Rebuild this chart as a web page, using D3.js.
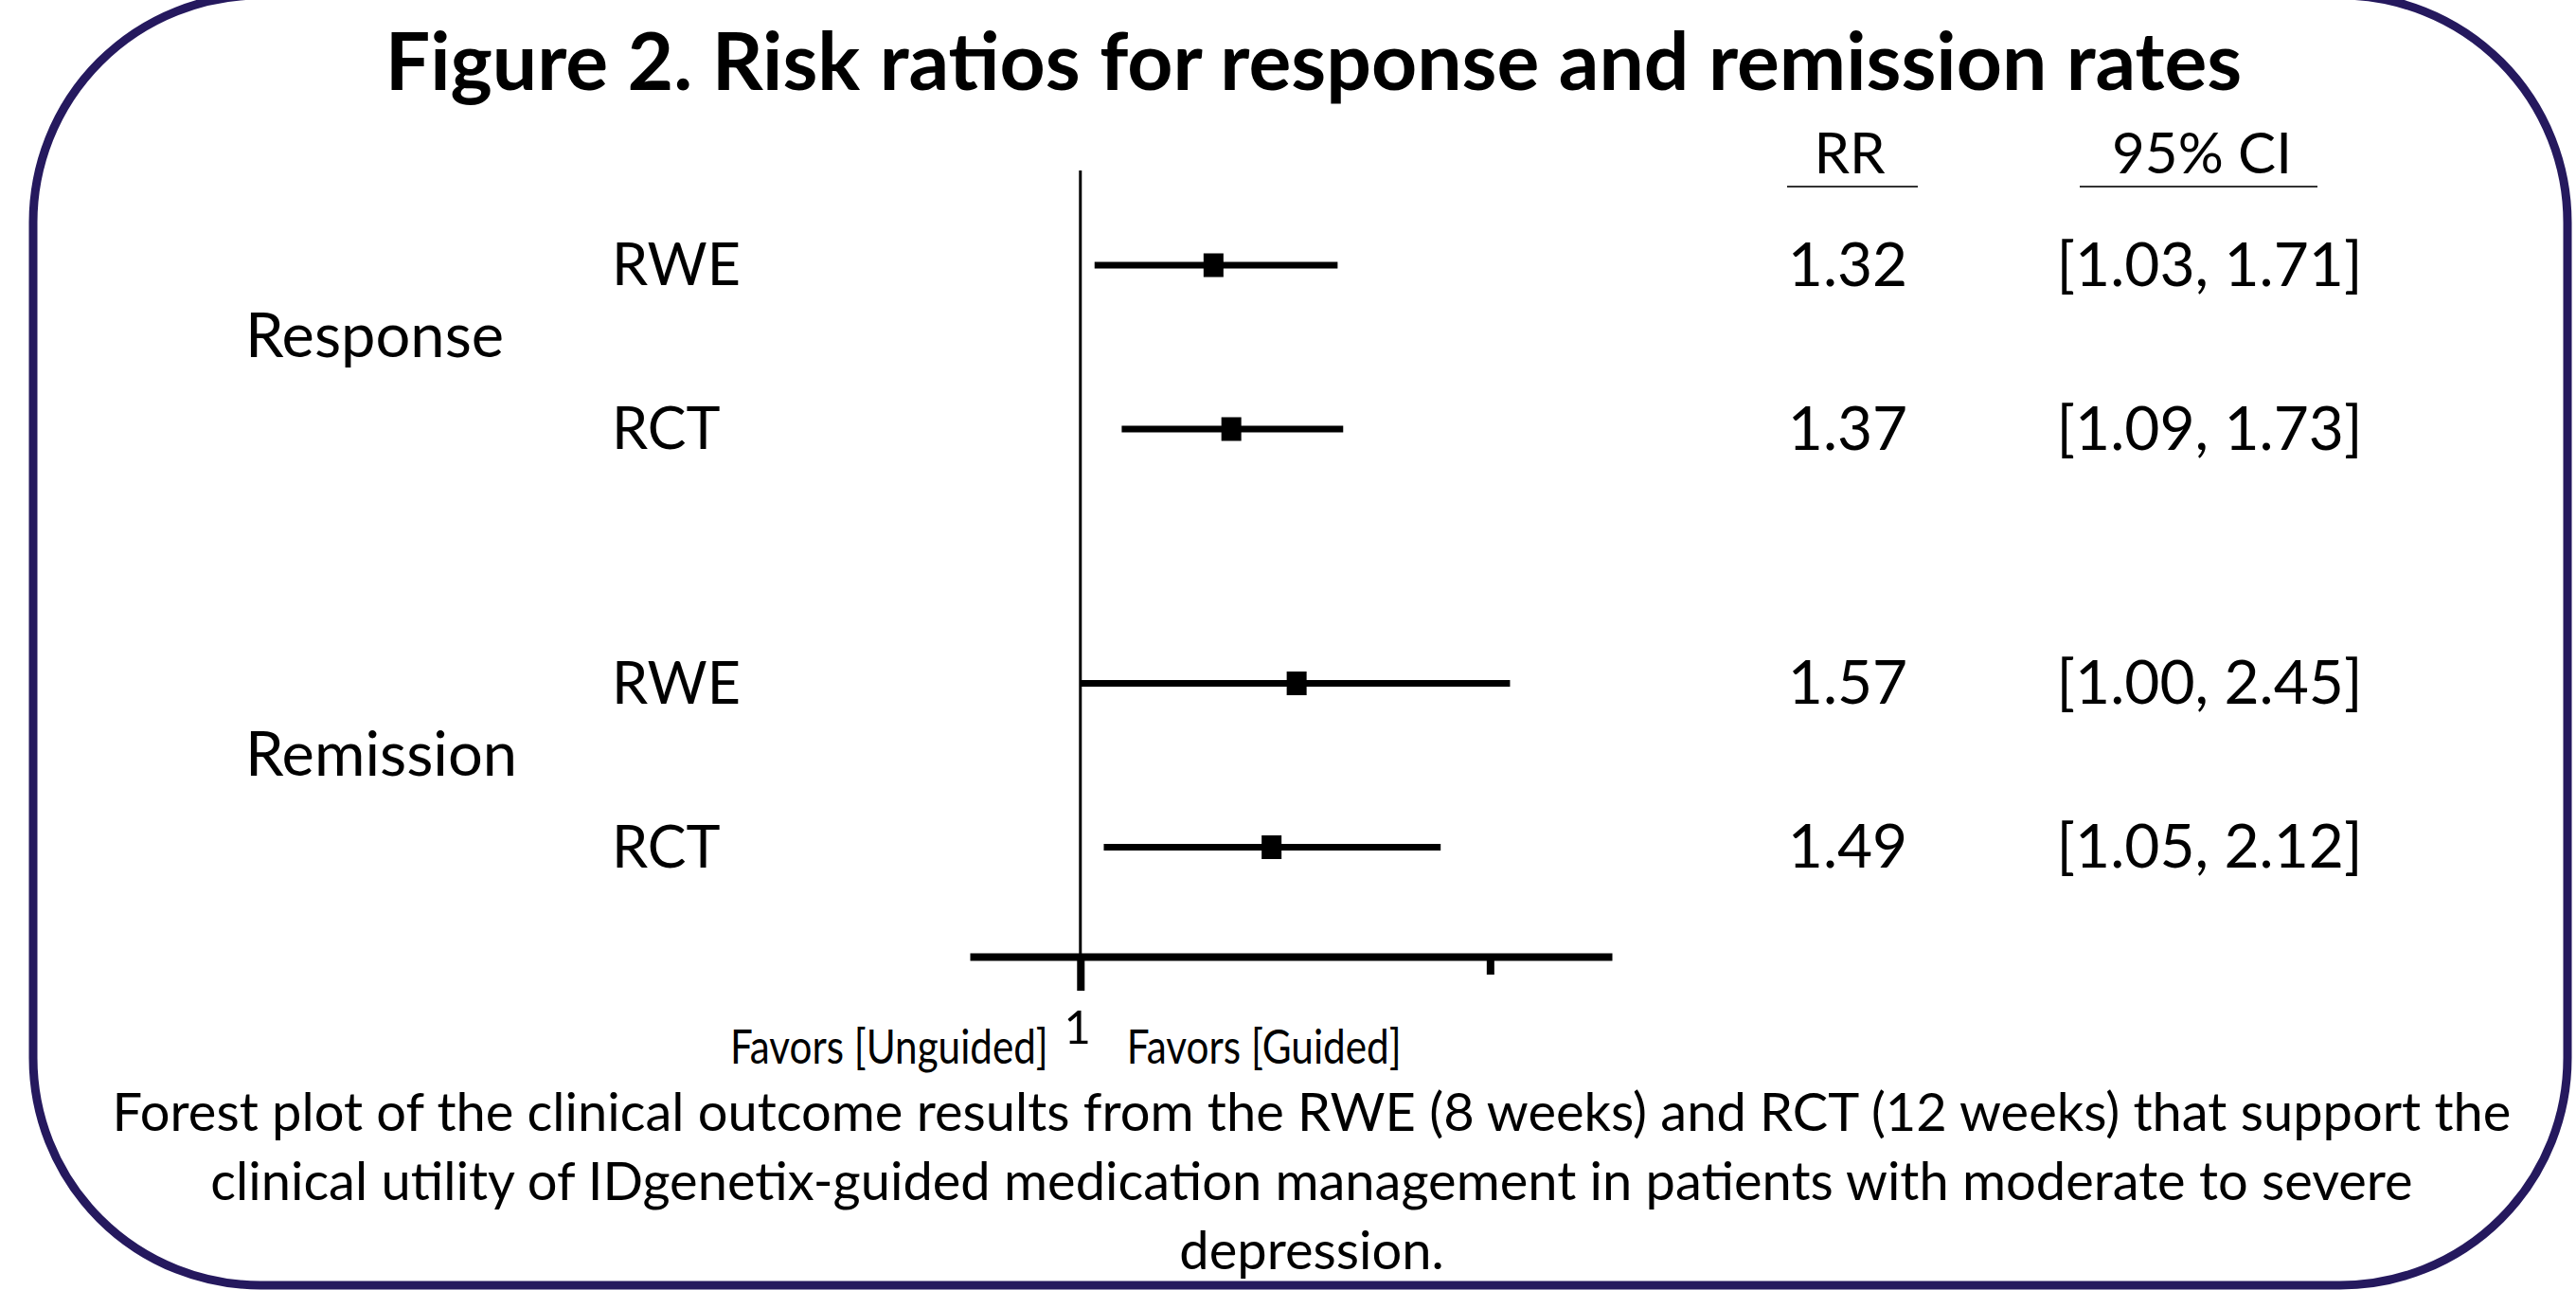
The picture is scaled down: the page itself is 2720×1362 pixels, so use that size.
<!DOCTYPE html>
<html>
<head>
<meta charset="utf-8">
<script src="https://cdn.jsdelivr.net/npm/d3@7"></script>
<style>
  body { margin: 0; background: #fff; }
  svg { display: block; }
  text { font-family: Lato, "Open Sans", sans-serif; fill: #000; }
</style>
</head>
<body>
<svg id="chart"></svg>
<script>
const w = 2720;
const h = 1362;

// data
const groups = ["Response", "Remission"];
const studies = ["RWE", "RCT"];
const rowGroup = ["Response", "Response", "Remission", "Remission"];
const rowStudy = ["RWE", "RCT", "RWE", "RCT"];
const rr = [1.32, 1.37, 1.57, 1.49];
const ciLow = [1.03, 1.09, 1.00, 1.05];
const ciHigh = [1.71, 1.73, 2.45, 2.12];
const axisTicks = [1, 2.35];
const tickLabels = ["1", ""];
const headers = ["RR", "95% CI"];
const favorLabels = ["Favors [Unguided]", "Favors [Guided]"];
const title = "Figure 2. Risk ratios for response and remission rates";
const caption = [
  "Forest plot of the clinical outcome results from the RWE (8 weeks) and RCT (12 weeks) that support the",
  "clinical utility of IDgenetix-guided medication management in patients with moderate to severe",
  "depression."
];

const rows = rr.map((v, i) => ({group: rowGroup[i], study: rowStudy[i], rr: v, lo: ciLow[i], hi: ciHigh[i]}));

const axisY = 1010;
const rrX = 1953;
const ciX = 2325;

var chart = d3.select("#chart")
  .attr("width", w)
  .attr("height", h);

// narrow text: squeeze horizontally to a given width
function squeezeText(parent, str, x, y, anchor, size, width) {
  var t = parent.append("text")
                .attr("text-anchor", anchor)
                .attr("font-size", size)
                .text(str);
  var k = width / t.node().getComputedTextLength();
  t.attr("transform", `translate(${x}, ${y}) scale(${k}, 1)`);
  return t;
}

// rounded frame
chart.append("rect")
     .attr("x", 35)
     .attr("y", -5)
     .attr("width", 2676)
     .attr("height", 1362)
     .attr("rx", 240)
     .attr("fill", "none")
     .attr("stroke", "#25195e")
     .attr("stroke-width", 9);

chart.append("text")
     .attr("x", 1387)
     .attr("y", 95)
     .attr("text-anchor", "middle")
     .attr("font-size", 84)
     .attr("font-weight", "bold")
     .text(title);

const xScale = d3.scaleLog()
                 .domain([0.794, 3.03])
                 .range([1024, 1702]);

const yGroup = d3.scalePoint()
                 .domain(groups)
                 .range([366.5, 808]);

const yStudy = d3.scalePoint()
                 .domain(studies)
                 .range([-86.5, 86.5]);

const rowY = d => yGroup(d.group) + yStudy(d.study);

// line of no effect
chart.append("line")
     .attr("x1", xScale(1))
     .attr("x2", xScale(1))
     .attr("y1", 180)
     .attr("y2", axisY)
     .attr("stroke", "#000")
     .attr("stroke-width", 3);

// x axis: long tick at 1, short one further right
var axis1 = chart.append("g")
     .attr("transform", `translate(0, ${axisY})`)
     .call(d3.axisBottom(xScale).tickValues([axisTicks[0]]).tickSize(36).tickSizeOuter(0).tickFormat(""));
axis1.select(".domain").attr("stroke-width", 8);
axis1.selectAll(".tick line").attr("stroke-width", 8);

var axis2 = chart.append("g")
     .attr("transform", `translate(0, ${axisY})`)
     .call(d3.axisBottom(xScale).tickValues(axisTicks.slice(1)).tickSize(19).tickSizeOuter(0).tickFormat(""));
axis2.select(".domain").remove();
axis2.selectAll(".tick line").attr("stroke-width", 8);

chart.selectAll(".tick-label")
     .data(axisTicks.filter((d, i) => tickLabels[i] !== ""))
     .join("text")
     .attr("class", "tick-label")
     .attr("x", d => xScale(d) - 3)
     .attr("y", 1102)
     .attr("text-anchor", "middle")
     .attr("font-size", 49)
     .text((d, i) => tickLabels[i]);

squeezeText(chart, favorLabels[0], xScale(1) - 34, 1123, "end", 50, 336);
squeezeText(chart, favorLabels[1], xScale(1) + 49, 1123, "start", 50, 290);

// confidence intervals and point estimates
chart.selectAll(".ci")
     .data(rows)
     .join("line")
     .attr("class", "ci")
     .attr("x1", d => xScale(d.lo))
     .attr("x2", d => xScale(d.hi))
     .attr("y1", rowY)
     .attr("y2", rowY)
     .attr("stroke", "#000")
     .attr("stroke-width", 7);

chart.selectAll(".est")
     .data(rows)
     .join("rect")
     .attr("class", "est")
     .attr("x", d => xScale(d.rr) - 10.5)
     .attr("y", d => rowY(d) - 12.5)
     .attr("width", 21)
     .attr("height", 25)
     .attr("fill", "#000");

// row labels
chart.selectAll(".group-label")
     .data(groups)
     .join("text")
     .attr("class", "group-label")
     .attr("x", 259)
     .attr("y", d => yGroup(d) - 12)
     .attr("dy", "0.35em")
     .attr("font-size", 65)
     .text(d => d);

chart.selectAll(".study-label")
     .data(rows)
     .join("text")
     .attr("class", "study-label")
     .attr("x", 646)
     .attr("y", rowY)
     .attr("dy", "0.35em")
     .attr("font-size", 61)
     .text(d => d.study);

// table columns
chart.selectAll(".header")
     .data(headers)
     .join("text")
     .attr("class", "header")
     .attr("x", (d, i) => i === 0 ? rrX : ciX)
     .attr("y", 183)
     .attr("text-anchor", "middle")
     .attr("font-size", 60)
     .text(d => d);

chart.selectAll(".header-rule")
     .data([[1887, 2025], [2196, 2447]])
     .join("line")
     .attr("class", "header-rule")
     .attr("x1", d => d[0])
     .attr("x2", d => d[1])
     .attr("y1", 197)
     .attr("y2", 197)
     .attr("stroke", "#333")
     .attr("stroke-width", 2);

chart.selectAll(".rr-val")
     .data(rows)
     .join("text")
     .attr("class", "rr-val")
     .attr("x", rrX - 2)
     .attr("y", rowY)
     .attr("dy", "0.34em")
     .attr("text-anchor", "middle")
     .attr("font-size", 64)
     .text(d => d.rr.toFixed(2));

chart.selectAll(".ci-val")
     .data(rows)
     .join("text")
     .attr("class", "ci-val")
     .attr("x", ciX + 8)
     .attr("y", rowY)
     .attr("dy", "0.34em")
     .attr("text-anchor", "middle")
     .attr("font-size", 64)
     .text(d => `[${d.lo.toFixed(2)}, ${d.hi.toFixed(2)}]`);

// caption
chart.selectAll(".caption")
     .data(caption)
     .join("text")
     .attr("class", "caption")
     .attr("x", 1385)
     .attr("y", (d, i) => 1194 + i * 73)
     .attr("text-anchor", "middle")
     .attr("font-size", 56)
     .text(d => d);
</script>
</body>
</html>
